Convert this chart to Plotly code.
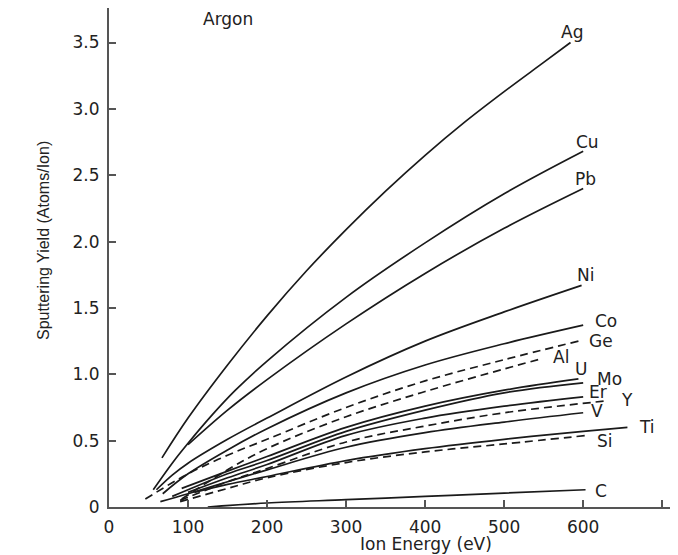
import plotly.graph_objects as go

# ---- data ----
ag_e = [67, 100, 150, 200, 250, 300, 350, 400, 450, 500, 550, 584]
ag_y = [0.37, 0.67, 1.07, 1.44, 1.78, 2.09, 2.38, 2.65, 2.90, 3.13, 3.35, 3.50]
cu_e = [56, 80, 100, 130, 160, 200, 300, 400, 500, 600]
cu_y = [0.13, 0.33, 0.48, 0.69, 0.88, 1.10, 1.58, 1.99, 2.36, 2.68]
pb_e = [100, 150, 200, 300, 400, 500, 600]
pb_y = [0.47, 0.73, 0.96, 1.38, 1.76, 2.10, 2.40]
ni_e = [60, 80, 100, 150, 200, 300, 400, 500, 598]
ni_y = [0.13, 0.24, 0.33, 0.51, 0.67, 0.98, 1.25, 1.47, 1.67]
co_e = [68, 100, 150, 200, 300, 400, 500, 600]
co_y = [0.10, 0.25, 0.43, 0.59, 0.86, 1.07, 1.23, 1.37]
ge_e = [46, 100, 150, 200, 300, 400, 500, 594]
ge_y = [0.06, 0.25, 0.39, 0.51, 0.75, 0.95, 1.11, 1.25]
al_e = [92, 150, 200, 300, 400, 500, 549]
al_y = [0.06, 0.28, 0.44, 0.68, 0.87, 1.04, 1.12]
u_e = [92, 150, 200, 300, 400, 500, 594]
u_y = [0.14, 0.27, 0.38, 0.60, 0.76, 0.88, 0.965]
mo_e = [80, 100, 150, 200, 300, 400, 500, 600]
mo_y = [0.08, 0.13, 0.25, 0.35, 0.57, 0.73, 0.86, 0.935]
er_e = [100, 150, 200, 300, 400, 500, 600]
er_y = [0.11, 0.22, 0.32, 0.54, 0.67, 0.76, 0.83]
y_e = [90, 150, 200, 300, 400, 500, 630]
y_y = [0.05, 0.19, 0.29, 0.49, 0.61, 0.71, 0.80]
v_e = [65, 100, 150, 200, 300, 400, 500, 600]
v_y = [0.04, 0.10, 0.19, 0.28, 0.45, 0.56, 0.64, 0.71]
ti_e = [108, 150, 200, 300, 400, 500, 600, 656]
ti_y = [0.11, 0.17, 0.23, 0.35, 0.44, 0.51, 0.57, 0.60]
si_e = [90, 150, 200, 300, 400, 500, 606]
si_y = [0.04, 0.14, 0.22, 0.335, 0.415, 0.475, 0.54]
c_e = [125, 200, 300, 400, 500, 603]
c_y = [0.0, 0.03, 0.055, 0.08, 0.105, 0.13]

elements = ["Ag", "Cu", "Pb", "Ni", "Co", "Ge", "Al", "U", "Mo", "Er", "Y", "V", "Ti", "Si", "C"]
series = {
    "Ag": (ag_e, ag_y), "Cu": (cu_e, cu_y), "Pb": (pb_e, pb_y), "Ni": (ni_e, ni_y),
    "Co": (co_e, co_y), "Ge": (ge_e, ge_y), "Al": (al_e, al_y), "U": (u_e, u_y),
    "Mo": (mo_e, mo_y), "Er": (er_e, er_y), "Y": (y_e, y_y), "V": (v_e, v_y),
    "Ti": (ti_e, ti_y), "Si": (si_e, si_y), "C": (c_e, c_y),
}
dashed = {"Ge", "Al", "Y", "Si"}

x_ticks = [0, 100, 200, 300, 400, 500, 600, 700]
y_ticks = [0, 0.5, 1.0, 1.5, 2.0, 2.5, 3.0, 3.5]
y_ticktext = ["0", "0.5", "1.0", "1.5", "2.0", "2.5", "3.0", "3.5"]

# label anchor positions (data coords)
label_pos = {
    "Ag": (586, 3.58), "Cu": (605, 2.75), "Pb": (603, 2.47), "Ni": (603, 1.75),
    "Co": (629, 1.40), "Ge": (622, 1.25), "Al": (572, 1.13), "U": (597, 1.04),
    "Mo": (633, 0.965), "Er": (619, 0.87), "Y": (656, 0.81), "V": (618, 0.72),
    "Ti": (681, 0.60), "Si": (628, 0.50), "C": (623, 0.12),
}

LINE = "#1a1a1a"
FONT = "DejaVu Sans"

# page body has an 8px margin, so the figure is placed at (8, 8) in the window
OFF = 8
W, H = 678 - OFF, 555 - OFF
L, R, T, B = 109 - OFF, 0, 8 - OFF, 555 - 507
pw, ph = W - L - R, H - T - B

fig = go.Figure()
for el in elements:
    e, yv = series[el]
    fig.add_trace(go.Scatter(
        x=e, y=yv, mode="lines", name=el,
        line=dict(color=LINE, width=1.7, shape="spline", smoothing=1.0,
                  dash="8px,5px" if el in dashed else "solid"),
        showlegend=False, hoverinfo="skip",
    ))

for el in elements:
    lx, ly = label_pos[el]
    fig.add_annotation(x=lx, y=ly, xref="x", yref="y", text=el, showarrow=False,
                       font=dict(family=FONT, size=17, color="#222"),
                       xanchor="center", yanchor="middle")

fig.add_annotation(x=151, y=3.68, xref="x", yref="y", text="Argon", showarrow=False,
                   font=dict(family=FONT, size=17, color="#222"),
                   xanchor="center", yanchor="middle")


def to_paper(px, py):
    return (px - OFF - L) / pw, (H - B - (py - OFF)) / ph


tx, ty = to_paper(426, 544)
fig.add_annotation(x=tx, y=ty, xref="paper", yref="paper", text="Ion Energy (eV)",
                   showarrow=False, font=dict(family=FONT, size=17, color="#222"),
                   xanchor="center", yanchor="middle")
tx, ty = to_paper(43, 241)
fig.add_annotation(x=tx, y=ty, xref="paper", yref="paper",
                   text="Sputtering Yield (Atoms/Ion)", textangle=-90,
                   showarrow=False, font=dict(family="Liberation Sans", size=16, color="#222"),
                   xanchor="center", yanchor="middle")

axis_common = dict(showgrid=False, zeroline=False, showline=True, linecolor="#555",
                   linewidth=2, ticks="inside", ticklen=7, tickwidth=1.5, tickcolor="#555",
                   tickfont=dict(family=FONT, size=17, color="#222"), automargin=False)
fig.update_xaxes(range=[0, 720], tickvals=x_ticks, ticktext=[str(t) for t in x_ticks],
                 ticklabelstandoff=4, **axis_common)
fig.update_yaxes(range=[0, 3.76], tickvals=y_ticks, ticktext=y_ticktext,
                 ticklabelstandoff=4, **axis_common)

fig.update_layout(width=W, height=H, margin=dict(l=L, r=R, t=T, b=B),
                  plot_bgcolor="white", paper_bgcolor="white")
fig.write_html("out.html")
